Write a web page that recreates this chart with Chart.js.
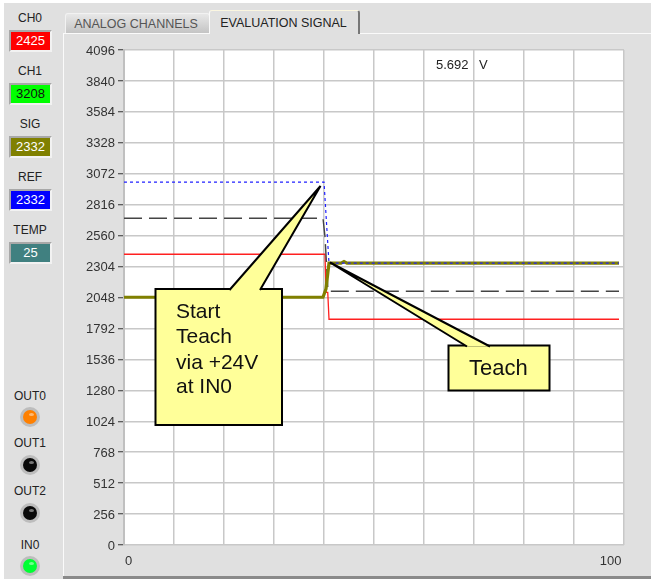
<!DOCTYPE html>
<html><head><meta charset="utf-8">
<style>
html,body{margin:0;padding:0;background:#fff;width:651px;height:579px;overflow:hidden}
#stage{position:absolute;left:0;top:0;width:651px;height:579px;font-family:"Liberation Sans",Arial,sans-serif;color:#222;filter:blur(.35px)}
#bg{position:absolute;left:4px;top:3px;width:647px;height:576px;background:#e0e0e0}
#shadow{position:absolute;left:63px;top:576px;width:588px;height:3px;background:#8a8a8a}
#page{position:absolute;left:63px;top:33px;width:588px;height:543px;background:#e0e0e0;border-top:1px solid #fafafa;border-left:1px solid #fafafa;box-sizing:border-box}
.tab{position:absolute;font-size:12.5px;text-align:center;box-sizing:border-box;white-space:nowrap}
#t1{left:65px;top:13px;width:145px;height:20px;line-height:21px;padding-right:3px;color:#555;background:linear-gradient(#e8e8e8,#c4c4c4);border:1px solid #f2f2f2;border-bottom:none;border-radius:3px 3px 0 0}
#t2{left:209px;top:10px;width:151px;height:24px;line-height:25px;padding-right:1px;color:#222;background:#e0e0e0;border-top:1px solid #fbf6e0;border-left:1px solid #fafafa;border-right:2px solid #777;border-radius:3px 3px 0 0}
.lab{position:absolute;left:0;width:60px;text-align:center;font-size:12px}
.num{position:absolute;left:9px;width:43px;height:22px;box-sizing:border-box;border:2px solid;border-color:#a8a8a8 #f2f2f2 #f2f2f2 #a8a8a8;text-align:center;font-size:13px;line-height:18px}
.led{position:absolute;width:14px;height:14px;border-radius:50%;left:23px;box-shadow:0 0 0 3px #bdbdbd}
.led i{position:absolute;left:6px;top:3px;width:5px;height:3px;border-radius:50%;background:rgba(255,255,255,.45)}
canvas{position:absolute;left:0;top:0}
</style></head><body>
<div id="stage">
<div id="bg"></div><div id="shadow"></div><div id="page"></div>
<div class="tab" id="t1">ANALOG CHANNELS</div>
<div class="tab" id="t2">EVALUATION SIGNAL</div>
<div id="side"></div>
<canvas id="c" width="651" height="579"></canvas>
</div>
<script src="https://cdn.jsdelivr.net/npm/chart.js@4/dist/chart.umd.min.js"></script>
<script>
const yTicks=[0,256,512,768,1024,1280,1536,1792,2048,2304,2560,2816,3072,3328,3584,3840,4096];
const xTicks=[0,10,20,30,40,50,60,70,80,90,100];
const refX=[0,40,41,99];
const refY=[3003,3003,2332,2332];
const threshX=[0,39.8,40.2,40.8,99];
const threshY=[2704,2704,2550,2100,2100];
const redX=[0,40.2,40.4,40.75,41,99];
const redY=[2406,2406,2091,2091,1868,1868];
const sigX=[0,39.8,40.4,41,43.4,44,44.6,99];
const sigY=[2050,2050,2120,2332,2332,2345,2332,2332];
const channels=[["CH0","2425","#ff0000","#fff"],["CH1","3208","#00ff00","#111"],["SIG","2332","#808000","#fff"],["REF","2332","#0000ff","#fff"],["TEMP","25","#408080","#fff"]];
const leds=[["OUT0","#ff8000"],["OUT1","#0a0a0a"],["OUT2","#0a0a0a"],["IN0","#00ff33"]];
const pts=(a,b)=>a.map((x,i)=>({x,y:b[i]}));

const side=document.getElementById('side');
channels.forEach((c,i)=>{
  const top=[30,83,136,189,242][i];
  side.insertAdjacentHTML('beforeend',`<div class="lab" style="top:${top-19}px">${c[0]}</div><div class="num" style="top:${top}px;background:${c[2]};color:${c[3]}">${c[1]}</div>`);
});
leds.forEach((l,i)=>{
  const top=[410,458,506,559][i];
  const lt=[389,436,484,538][i];
  side.insertAdjacentHTML('beforeend',`<div class="lab" style="top:${lt}px">${l[0]}</div><div class="led" style="top:${top}px;background:${l[1]}"><i></i></div>`);
});

const callouts=[
 {box:[155.5,289,282,425],wedge:[[229.5,290],[320.5,186],[260,290]],lines:["Start","Teach","via +24V","at IN0"],tx:176,ys:[312,337,363,387],size:21},
 {box:[448.5,345.5,549.5,390.5],wedge:[[467,346.5],[330,262.5],[490,346.5]],lines:["Teach"],tx:469,ys:[369],size:22}
];
const overlay={id:'overlay',afterDatasetsDraw(ch){
  const g=ch.ctx;g.save();
  callouts.forEach(c=>{
    const [l,t,r,b]=c.box;
    g.fillStyle='#ffff99';g.strokeStyle='#000';g.lineWidth=2;g.lineJoin='miter';
    g.fillRect(l,t,r-l,b-t);g.strokeRect(l,t,r-l,b-t);
    g.beginPath();c.wedge.forEach((p,i)=>i?g.lineTo(p[0],p[1]):g.moveTo(p[0],p[1]));g.closePath();g.fill();
    g.beginPath();c.wedge.forEach((p,i)=>i?g.lineTo(p[0],p[1]):g.moveTo(p[0],p[1]));g.stroke();
    g.fillStyle='#111';g.font=c.size+'px "Liberation Sans",Arial,sans-serif';g.textAlign='left';g.textBaseline='middle';
    c.lines.forEach((s,i)=>g.fillText(s,c.tx,c.ys[i]));
  });
  g.fillStyle='#222';g.font='13px "Liberation Sans",Arial,sans-serif';g.textAlign='left';g.textBaseline='middle';
  g.fillText('5.692',436,65);g.fillText('V',479,65);
  g.restore();
}};
const plotBg={id:'plotBg',beforeDraw(ch){const a=ch.chartArea,g=ch.ctx;g.save();g.fillStyle='#fff';g.fillRect(a.left,a.top,a.right-a.left,a.bottom-a.top);g.restore();}};
new Chart(document.getElementById('c'),{
  type:'scatter',
  data:{datasets:[
    {label:'REF',data:pts(refX,refY),borderColor:'#2020ff',borderWidth:1.2,borderDash:[3,3],showLine:true,pointRadius:0,order:1},
    {label:'SIG',data:pts(sigX,sigY),borderColor:'#808000',borderWidth:3.2,showLine:true,pointRadius:0,order:2},
    {label:'Threshold',data:pts(threshX,threshY),borderColor:'#444',borderWidth:1.4,borderDash:[18,7],showLine:true,pointRadius:0,order:3},
    {label:'CH0',data:pts(redX,redY),borderColor:'#ff2020',borderWidth:1.3,showLine:true,pointRadius:0,order:4}
  ]},
  plugins:[plotBg,overlay],
  options:{responsive:false,animation:false,
    layout:{padding:{left:0,top:50,right:27,bottom:0}},
    plugins:{legend:{display:false},tooltip:{enabled:false}},
    scales:{
      x:{type:'linear',min:0,max:100,afterBuildTicks(a){a.ticks=xTicks.map(v=>({value:v}));},
        afterFit(s){s.height=34;},
        border:{display:false},grid:{color:'#c8c8c8',lineWidth:1.5,drawTicks:false},
        ticks:{autoSkip:false,maxRotation:0,align:'inner',padding:9,labelOffset:1,color:'#333',font:{family:'"Liberation Sans",Arial,sans-serif',size:13},callback:v=>v===0?'0':(v===100?'100 ':'')}},
      y:{type:'linear',min:0,max:4096,afterBuildTicks(a){a.ticks=yTicks.map(v=>({value:v}));},
        afterFit(s){s.width=124;},
        border:{display:true,color:'#c0c0c0',width:2},
        grid:{color:'#c8c8c8',lineWidth:1.5,tickColor:'#333',tickLength:6,tickWidth:1},
        ticks:{autoSkip:false,padding:3,labelOffset:1,color:'#333',font:{family:'"Liberation Sans",Arial,sans-serif',size:13},callback:v=>String(v)}}
    }
  }
});
</script></body></html>
